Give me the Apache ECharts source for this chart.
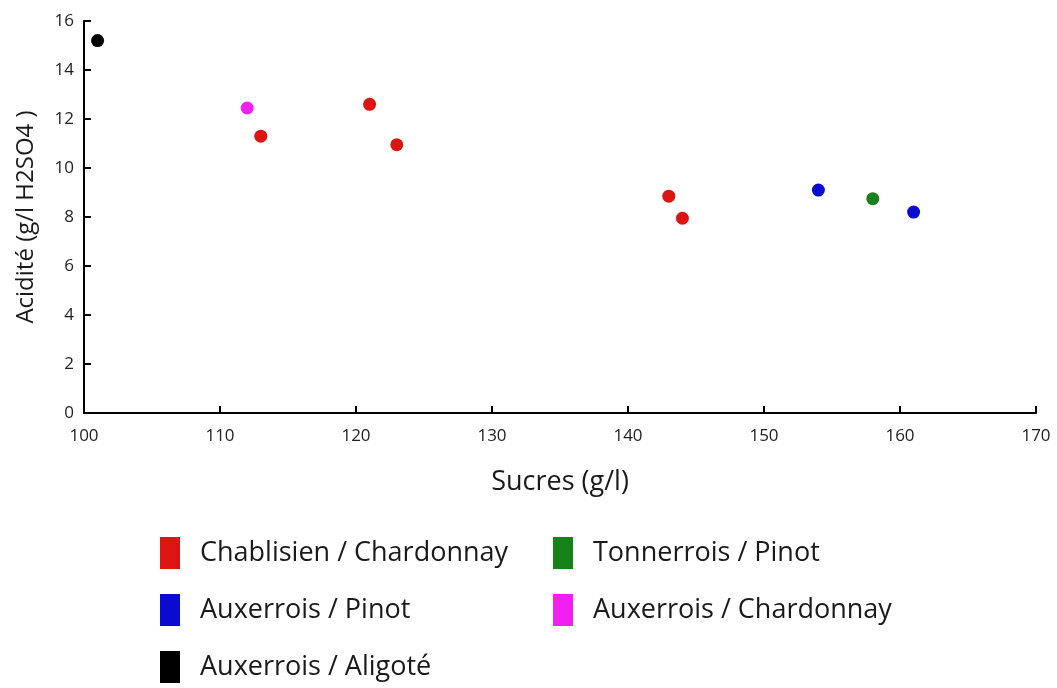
<!DOCTYPE html>
<html><head><meta charset="utf-8">
<script src="https://cdn.jsdelivr.net/npm/echarts@6/dist/echarts.min.js"></script>
<style>html,body{margin:0;padding:0;background:#fff}#c{width:1057px;height:688px}</style>
</head><body><div id="c"></div>
<script>
const seriesNames = ["Chablisien / Chardonnay","Tonnerrois / Pinot","Auxerrois / Pinot","Auxerrois / Chardonnay","Auxerrois / Aligoté"];
const seriesColors = ["#dd1414","#178217","#0a0ad0","#f020f0","#000000"];
const chablisienChardonnay = [[113,11.3],[121,12.6],[123,10.95],[143,8.85],[144,7.95]];
const tonnerroisPinot = [[158,8.75]];
const auxerroisPinot = [[154,9.1],[161,8.2]];
const auxerroisChardonnay = [[112,12.45]];
const auxerroisAligote = [[101,15.2]];
const seriesData = [chablisienChardonnay,tonnerroisPinot,auxerroisPinot,auxerroisChardonnay,auxerroisAligote];
const xTicks = {min:100,max:170,interval:10};
const yTicks = {min:0,max:16,interval:2};

const chart = echarts.init(document.getElementById('c'));
const font = "'Open Sans', sans-serif";
const legendCommon = {
  orient:'vertical', icon:'rect', itemWidth:20, itemHeight:32, itemGap:25, padding:0,
  height:160,
  textStyle:{fontFamily:font, fontSize:27, color:'#1a1a1a', padding:[0,0,0,15]}, top:537
};
chart.setOption({
  animation:false,
  grid:{left:84,right:21,top:21,bottom:275},
  legend:[
    Object.assign({left:160, data:[seriesNames[0],seriesNames[2],seriesNames[4]]}, legendCommon),
    Object.assign({left:553, data:[seriesNames[1],seriesNames[3]]}, legendCommon)
  ],
  xAxis:{type:'value', min:xTicks.min, max:xTicks.max, interval:xTicks.interval,
    name:'Sucres (g/l)', nameLocation:'middle', nameGap:56,
    nameTextStyle:{fontFamily:font, fontSize:27, color:'#1a1a1a'},
    axisLine:{lineStyle:{color:'#000',width:2}},
    axisTick:{inside:true,length:7,lineStyle:{color:'#000',width:2}},
    axisLabel:{fontFamily:font, fontSize:17, color:'#222', margin:15},
    splitLine:{show:false}},
  yAxis:{type:'value', min:yTicks.min, max:yTicks.max, interval:yTicks.interval,
    name:'Acidité (g/l H2SO4 )', nameLocation:'middle', nameGap:46,
    nameTextStyle:{fontFamily:font, fontSize:24, color:'#1a1a1a'},
    axisLine:{show:true,lineStyle:{color:'#000',width:2}},
    axisTick:{show:true,inside:true,length:7,lineStyle:{color:'#000',width:2}},
    axisLabel:{fontFamily:font, fontSize:17, color:'#222', margin:10},
    splitLine:{show:false}},
  series: seriesNames.map((n,i)=>({
    name:n, type:'scatter', data:seriesData[i], symbolSize:13,
    itemStyle:{color:seriesColors[i], opacity:1}
  }))
});
</script></body></html>
